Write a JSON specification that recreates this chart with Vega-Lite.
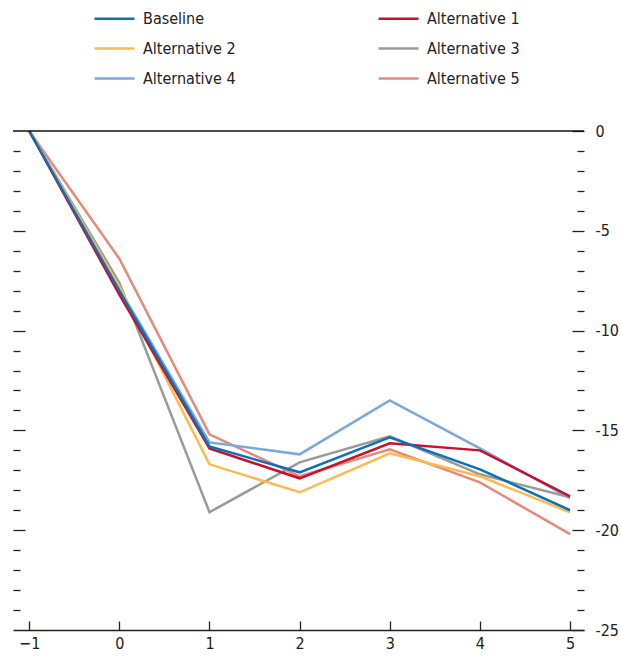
{
  "$schema": "https://vega.github.io/schema/vega-lite/v6.json",
  "autosize": {"type": "none"},
  "width": 571,
  "height": 499,
  "padding": {"left": 13, "top": 131, "right": 37, "bottom": 26},
  "background": "white",
  "config": {
    "view": {"stroke": null},
    "font": "Liberation Sans Narrow, Roboto Condensed, DejaVu Sans Condensed, sans-serif",
    "axis": {"labelFont": "Liberation Sans Narrow, DejaVu Sans Condensed, sans-serif", "labelFontSize": 16, "labelColor": "#222222", "grid": false, "title": null}
  },
  "datasets": {
    "series": [
      {"series": "Alternative 5", "x": -1, "y": 0},
      {"series": "Alternative 5", "x": 0, "y": -6.4},
      {"series": "Alternative 5", "x": 1, "y": -15.2},
      {"series": "Alternative 5", "x": 2, "y": -17.3},
      {"series": "Alternative 5", "x": 3, "y": -15.95},
      {"series": "Alternative 5", "x": 4, "y": -17.6},
      {"series": "Alternative 5", "x": 5, "y": -20.2},
      {"series": "Alternative 4", "x": -1, "y": 0},
      {"series": "Alternative 4", "x": 0, "y": -7.9},
      {"series": "Alternative 4", "x": 1, "y": -15.6},
      {"series": "Alternative 4", "x": 2, "y": -16.2},
      {"series": "Alternative 4", "x": 3, "y": -13.5},
      {"series": "Alternative 4", "x": 4, "y": -15.9},
      {"series": "Alternative 4", "x": 5, "y": -18.4},
      {"series": "Alternative 3", "x": -1, "y": 0},
      {"series": "Alternative 3", "x": 0, "y": -7.6},
      {"series": "Alternative 3", "x": 1, "y": -19.1},
      {"series": "Alternative 3", "x": 2, "y": -16.6},
      {"series": "Alternative 3", "x": 3, "y": -15.3},
      {"series": "Alternative 3", "x": 4, "y": -17.2},
      {"series": "Alternative 3", "x": 5, "y": -18.35},
      {"series": "Alternative 2", "x": -1, "y": 0},
      {"series": "Alternative 2", "x": 0, "y": -7.8},
      {"series": "Alternative 2", "x": 1, "y": -16.7},
      {"series": "Alternative 2", "x": 2, "y": -18.1},
      {"series": "Alternative 2", "x": 3, "y": -16.15},
      {"series": "Alternative 2", "x": 4, "y": -17.3},
      {"series": "Alternative 2", "x": 5, "y": -19.1},
      {"series": "Alternative 1", "x": -1, "y": 0},
      {"series": "Alternative 1", "x": 0, "y": -8.2},
      {"series": "Alternative 1", "x": 1, "y": -15.9},
      {"series": "Alternative 1", "x": 2, "y": -17.4},
      {"series": "Alternative 1", "x": 3, "y": -15.65},
      {"series": "Alternative 1", "x": 4, "y": -16.0},
      {"series": "Alternative 1", "x": 5, "y": -18.3},
      {"series": "Baseline", "x": -1, "y": 0},
      {"series": "Baseline", "x": 0, "y": -8.0},
      {"series": "Baseline", "x": 1, "y": -15.8},
      {"series": "Baseline", "x": 2, "y": -17.1},
      {"series": "Baseline", "x": 3, "y": -15.35},
      {"series": "Baseline", "x": 4, "y": -16.95},
      {"series": "Baseline", "x": 5, "y": -19.0}
    ],
    "zero": [{"y": 0}]
  },
  "resolve": {"axis": {"y": "independent"}},
  "layer": [
    {
      "data": {"name": "series"},
      "mark": {"type": "line", "strokeWidth": 2.5, "strokeJoin": "miter"},
      "encoding": {
        "x": {
          "field": "x", "type": "quantitative",
          "scale": {"domain": [-1.18, 5.155], "nice": false, "zero": false},
          "axis": {
            "orient": "bottom", "values": [-1, 0, 1, 2, 3, 4, 5],
            "tickSize": -9, "tickColor": "#222222", "tickWidth": 1.3,
            "domain": true, "domainColor": "#222222", "domainWidth": 1.3,
            "labelPadding": 14
          }
        },
        "y": {
          "field": "y", "type": "quantitative",
          "scale": {"domain": [-25, 0], "nice": false, "zero": false},
          "axis": {
            "orient": "left",
            "values": [-24, -23, -22, -21, -20, -19, -18, -17, -16, -15, -14, -13, -12, -11, -10, -9, -8, -7, -6, -5, -4, -3, -2, -1],
            "labels": false, "domain": false,
            "tickColor": "#222222", "tickWidth": 1.3,
            "tickSize": {"condition": {"test": "datum.value % 5 === 0", "value": -12}, "value": -7}
          }
        },
        "color": {
          "field": "series", "type": "nominal",
          "scale": {
            "domain": ["Baseline", "Alternative 1", "Alternative 2", "Alternative 3", "Alternative 4", "Alternative 5"],
            "range": ["#0B72B9", "#C8102E", "#FDBA4F", "#9A9A9A", "#7AA8DA", "#E38A7B"]
          },
          "legend": {
            "orient": "none", "legendX": 80, "legendY": -134,
            "title": null, "columns": 2, "direction": "horizontal",
            "symbolType": "stroke", "symbolSize": 1600, "symbolStrokeWidth": 2.5,
            "labelFont": "Liberation Sans Narrow, DejaVu Sans Condensed, sans-serif",
            "labelFontSize": 16, "labelColor": "#222222", "labelOffset": 7,
            "rowPadding": -13, "columnPadding": 137, "labelLimit": 300
          }
        }
      }
    },
    {
      "data": {"name": "zero"},
      "mark": {"type": "rule", "color": "#111111", "strokeWidth": 1.5},
      "encoding": {
        "y": {
          "field": "y", "type": "quantitative",
          "scale": {"domain": [-25, 0], "nice": false, "zero": false},
          "axis": {
            "orient": "right",
            "values": [0, -1, -2, -3, -4, -5, -6, -7, -8, -9, -10, -11, -12, -13, -14, -15, -16, -17, -18, -19, -20, -21, -22, -23, -24, -25],
            "domain": false,
            "tickColor": "#222222", "tickWidth": 1.3,
            "tickSize": {"condition": {"test": "datum.value % 5 === 0", "value": -12}, "value": -7},
            "labelExpr": "datum.value % 5 === 0 ? '' + datum.value : ''",
            "labelPadding": 23, "labelBaseline": "middle"
          }
        }
      }
    }
  ]
}
